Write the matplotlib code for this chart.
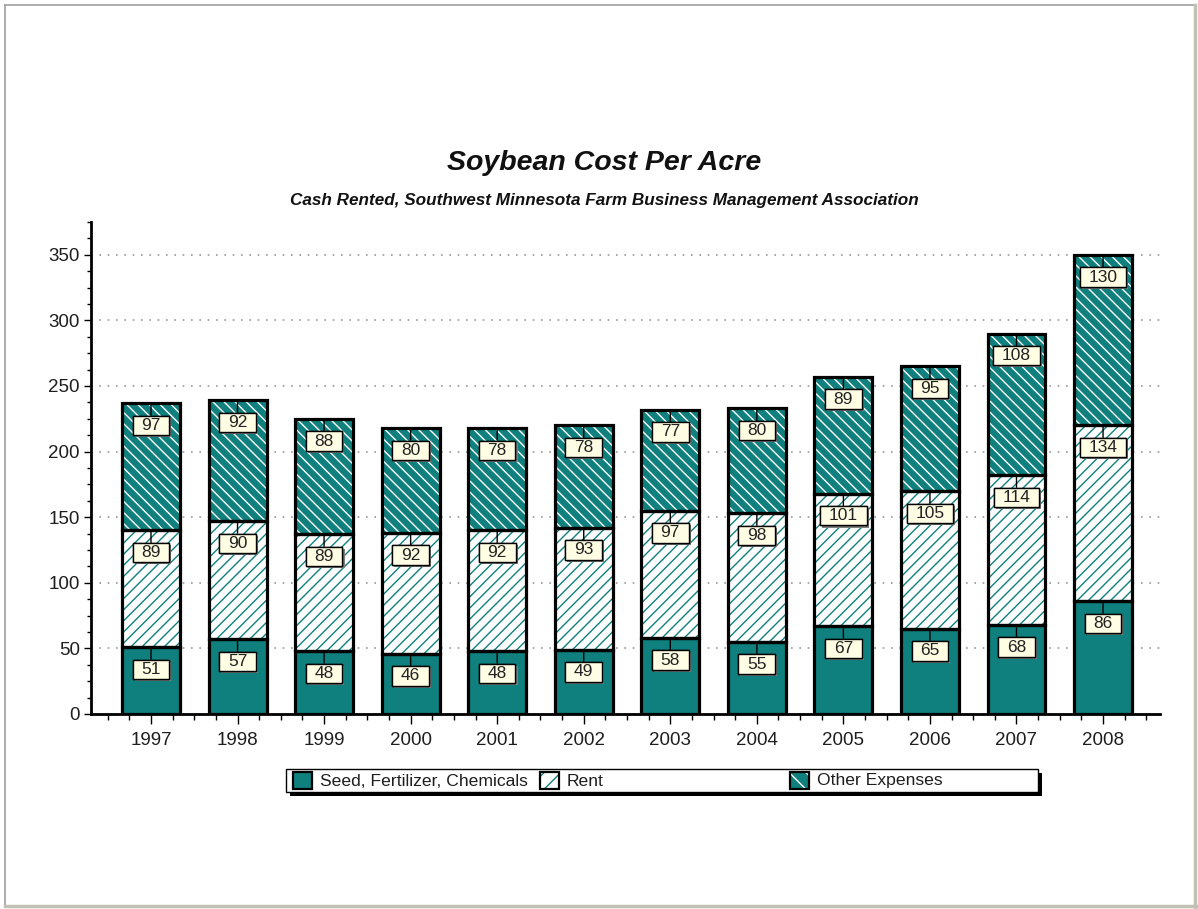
import matplotlib
matplotlib.use("Agg")
import matplotlib.pyplot as plt
import matplotlib.patheffects as pe
from matplotlib.patches import Rectangle
from matplotlib.lines import Line2D
from matplotlib.ticker import MultipleLocator
import numpy as np

years = ["1997", "1998", "1999", "2000", "2001", "2002",
         "2003", "2004", "2005", "2006", "2007", "2008"]
seed = [51, 57, 48, 46, 48, 49, 58, 55, 67, 65, 68, 86]
rent = [89, 90, 89, 92, 92, 93, 97, 98, 101, 105, 114, 134]
other = [97, 92, 88, 80, 78, 78, 77, 80, 89, 95, 108, 130]
series_names = ["Seed, Fertilizer, Chemicals", "Rent", "Other Expenses"]

TEAL = "#0f807e"
CREAM = "#fffde3"
W, H = 1198, 909

plt.rcParams['font.family'] = ['Liberation Sans', 'DejaVu Sans']
plt.rcParams['hatch.linewidth'] = 1.0

fig = plt.figure(figsize=(W / 100, H / 100), dpi=100)
ax = fig.add_axes([91 / W, 1 - 714 / H, 1069 / W, 492 / H])

x = np.arange(len(years))
bw = 0.67
seed = np.array(seed)
rent = np.array(rent)
other = np.array(other)

# (values, bottoms, face, hatch, hatch colour)
layers = [
    (seed, np.zeros_like(seed), TEAL, None, TEAL),
    (rent, seed, "white", "///", TEAL),
    (other, seed + rent, TEAL, "\\\\\\", "white"),
]

for vals, bottoms, face, hatch, hcol in layers:
    # fill + hatch, hatch colour comes from edgecolor
    ax.bar(x, vals, bw, bottom=bottoms, color=face, hatch=hatch,
           edgecolor=hcol, linewidth=0, zorder=2)
    # black outline on top
    ax.bar(x, vals, bw, bottom=bottoms, fill=False, edgecolor="black",
           linewidth=2.3, zorder=3)
    for xi, v, b in zip(x, vals, bottoms):
        t = ax.annotate(str(v), xy=(xi, b + v), xytext=(0, -16),
                        textcoords="offset points", ha="center", va="center",
                        fontsize=12.5, color="#222222", zorder=5,
                        bbox=dict(boxstyle="square,pad=0.5", fc=CREAM,
                                  ec="black", lw=1.0, mutation_aspect=0.25),
                        arrowprops=dict(arrowstyle="-", color="black", lw=1.0,
                                        shrinkA=0, shrinkB=0))
        t.get_bbox_patch().set_path_effects(
            [pe.withSimplePatchShadow(offset=(1.5, -1.5), shadow_rgbFace="#808080",
                                      alpha=1.0), pe.Normal()])

ax.set_xlim(-0.693, 11.658)
ax.set_ylim(0, 375)
ax.set_xticks(x)
ax.set_xticklabels(years)
ax.xaxis.set_minor_locator(MultipleLocator(0.25))
ax.yaxis.set_major_locator(MultipleLocator(50))
ax.yaxis.set_minor_locator(MultipleLocator(12.5))
ax.tick_params(axis="both", which="major", labelsize=13.5, colors="black",
               labelcolor="#1e1e1e", width=1.0)
ax.tick_params(axis="x", which="major", length=7, pad=6)
ax.tick_params(axis="x", which="minor", length=4, width=1.0)
ax.tick_params(axis="y", which="major", length=5, pad=3)
ax.tick_params(axis="y", which="minor", length=3, width=1.0)

ax.yaxis.grid(True, which="major", color="#9a9a9a", linestyle=(0, (1, 4)),
              linewidth=1.2, zorder=0)
ax.set_axisbelow(True)
for s in ("top", "right"):
    ax.spines[s].set_visible(False)
for s in ("left", "bottom"):
    ax.spines[s].set_linewidth(2.0)
    ax.spines[s].set_zorder(4)

fig.text(604 / W, 1 - 163 / H, "Soybean Cost Per Acre", ha="center", va="center",
         fontsize=20.5, fontweight="bold", fontstyle="italic", color="#111111")
fig.text(604 / W, 1 - 201 / H,
         "Cash Rented, Southwest Minnesota Farm Business Management Association",
         ha="center", va="center", fontsize=12.3, fontweight="bold",
         fontstyle="italic", color="#111111")

# legend box drawn by hand so the columns sit where they do in the source
def px(xp, yp):
    return xp / W, 1 - yp / H

lx0, ly0, lx1, ly1 = 286, 769, 1038, 792
fig.patches.append(Rectangle(px(lx0 + 4, ly1 + 4), (lx1 - lx0) / W, (ly1 - ly0) / H,
                             transform=fig.transFigure, fc="black", ec="black",
                             lw=0, zorder=1))
fig.patches.append(Rectangle(px(lx0, ly1), (lx1 - lx0) / W, (ly1 - ly0) / H,
                             transform=fig.transFigure, fc="white", ec="black",
                             lw=1.0, zorder=2))
handle_x = [293, 540, 790]
handle_style = [(TEAL, None, TEAL), ("white", "//", TEAL), (TEAL, "\\\\", "white")]
for hx, name, (face, hatch, hcol) in zip(handle_x, series_names, handle_style):
    fig.patches.append(Rectangle(px(hx, 789), 19 / W, 17 / H,
                                 transform=fig.transFigure, fc=face, hatch=hatch,
                                 ec=hcol, lw=0, zorder=3))
    fig.patches.append(Rectangle(px(hx, 789), 19 / W, 17 / H,
                                 transform=fig.transFigure, fill=False,
                                 ec="black", lw=1.6, zorder=4))
    fig.text((hx + 27) / W, 1 - 781 / H, name, ha="left", va="center",
             fontsize=12.6, color="#1e1e1e")

# outer frame of the picture
fig.add_artist(Line2D([5 / W, 1194 / W], [1 - 5 / H, 1 - 5 / H],
                      transform=fig.transFigure, color="#a0a0a0", lw=1.2))
fig.add_artist(Line2D([5 / W, 5 / W], [1 - 5 / H, 1 - 906 / H],
                      transform=fig.transFigure, color="#a0a0a0", lw=1.2))
fig.add_artist(Line2D([1195 / W, 1195 / W], [1 - 5 / H, 1 - 907 / H],
                      transform=fig.transFigure, color="#c3c0b6", lw=2.5))
fig.add_artist(Line2D([5 / W, 1196 / W], [1 - 906 / H, 1 - 906 / H],
                      transform=fig.transFigure, color="#c3c0b6", lw=2.5))

fig.savefig("out.png", dpi=100)
